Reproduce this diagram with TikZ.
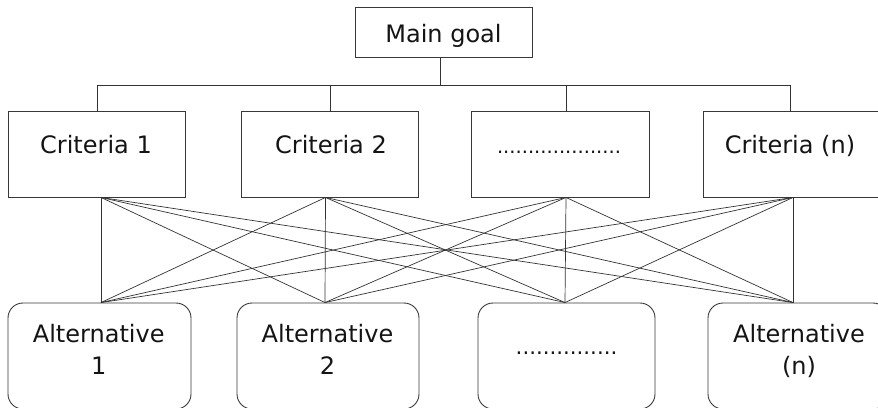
\documentclass[tikz,border=0pt]{standalone}
\usepackage{fontspec}
\setmainfont{DejaVu Sans}
\begin{document}
\begin{tikzpicture}[x=1pt,y=-1pt,
  box/.style={draw=black!78,line width=0.9pt,rectangle,inner sep=0pt,minimum height=86pt},
  altbox/.style={draw=black!78,line width=0.9pt,rectangle,rounded corners=15pt,inner sep=0pt,minimum height=106pt},
  lbl/.style={anchor=base,inner sep=0pt,font=\fontsize{24}{32}\selectfont,text=black!92,align=center},
  conn/.style={draw=black!80,line width=0.8pt}]
\useasboundingbox (0,0) rectangle (878,407);
\clip (0,0) rectangle (878,407);
% boxes
\node[box,minimum width=177pt,minimum height=50pt] (goal) at (443.5,32) {};
\node[box,minimum width=177pt] (c1) at (96.5,154) {};
\node[box,minimum width=177pt] (c2) at (329.5,154) {};
\node[box,minimum width=178pt] (c3) at (560,154) {};
\node[box,minimum width=177pt] (c4) at (791.5,154) {};
\node[altbox,minimum width=183pt] (a1) at (99.5,356) {};
\node[altbox,minimum width=182pt] (a2) at (328,356) {};
\node[altbox,minimum width=177pt] (a3) at (566.5,356) {};
\node[altbox,minimum width=180pt] (a4) at (798,356) {};
% texts
\node[lbl] (tg) at (443.5,42) {Main goal};
\node[lbl] (tc1) at (96,153) {Criteria 1};
\node[lbl] (tc2) at (331,153) {Criteria 2};
\node[lbl,font=\fontsize{19.5}{24}\selectfont] (tc3) at (559,153) {....................};
\node[lbl] (tc4) at (790,153) {Criteria (n)};
\node[lbl] (ta1) at (98.7,374) {Alternative\\1};
\node[lbl] (ta2) at (327.5,374) {Alternative\\2};
\node[lbl,font=\fontsize{21.3}{24}\selectfont] (ta3) at (566.5,354) {...............};
\node[lbl] (ta4) at (799,374) {Alternative\\(n)};
% tree connectors
\coordinate (gs) at ([xshift=-3.5]goal.south);
\draw[conn] (gs) -- ++(0,28) coordinate (bus);
\draw[conn] ([xshift=0.5]c1.north) |- (bus) -| ([xshift=-1.5]c4.north);
\draw[conn] ([xshift=0.5]c2.north) -- ([xshift=0.5]c2.north |- bus);
\draw[conn] ([xshift=6]c3.north) -- ([xshift=6]c3.north |- bus);
% bottom/top points
\coordinate (cb1) at ([xshift=4.5]c1.south);
\coordinate (cb2) at ([xshift=-4]c2.south);
\coordinate (cb3) at ([xshift=6]c3.south);
\coordinate (cb4) at ([xshift=1.5]c4.south);
\coordinate (at1) at ([xshift=1.5]a1.north);
\coordinate (at2) at ([xshift=-3]a2.north);
\coordinate (at3) at ([xshift=-1.5]a3.north);
\coordinate (at4) at ([xshift=-5]a4.north);
\foreach \i in {1,...,4}{
  \foreach \j in {1,...,4}{
    \draw[conn,line width=0.7pt] (cb\i) -- (at\j);
  }
}
\end{tikzpicture}
\end{document}
